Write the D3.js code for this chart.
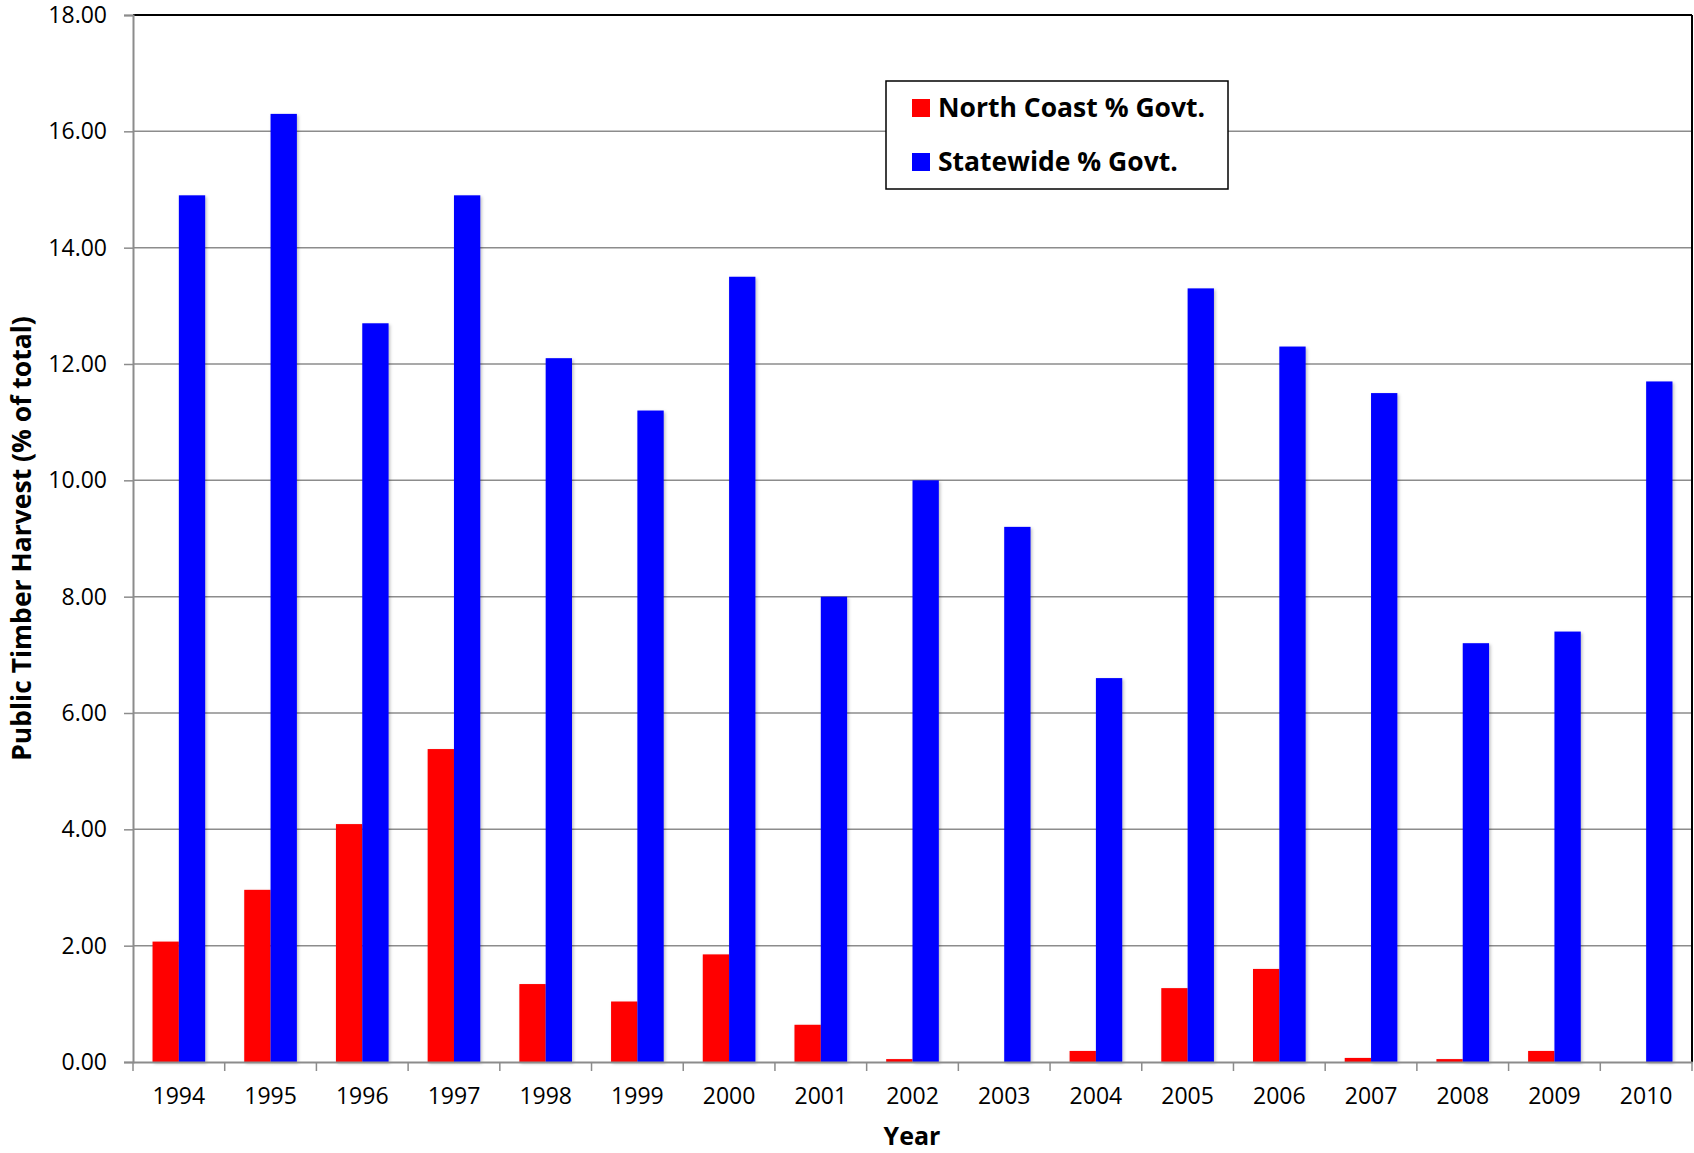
<!DOCTYPE html>
<html>
<head>
<meta charset="utf-8">
<script src="https://cdn.jsdelivr.net/npm/d3@7"></script>
<style>
  body { margin: 0; background: #fff; }
  text { font-family: "Open Sans", sans-serif; fill: #000; }
</style>
</head>
<body>
<div id="chart"></div>
<script>
// data
var years = ["1994","1995","1996","1997","1998","1999","2000","2001","2002","2003","2004","2005","2006","2007","2008","2009","2010"];
var northCoast = [2.07, 2.96, 4.09, 5.38, 1.34, 1.04, 1.85, 0.64, 0.05, 0, 0.19, 1.27, 1.60, 0.07, 0.05, 0.19, 0];
var statewide = [14.9, 16.3, 12.7, 14.9, 12.1, 11.2, 13.5, 8.0, 10.0, 9.2, 6.6, 13.3, 12.3, 11.5, 7.2, 7.4, 11.7];
var seriesNames = ["North Coast % Govt.", "Statewide % Govt."];
var seriesColors = ["#ff0000", "#0000ff"];
var yTicks = [0, 2, 4, 6, 8, 10, 12, 14, 16, 18];

var data = years.map(function(y, i) {
  return {year: y, values: [northCoast[i], statewide[i]]};
});

// set the dimensions and margins of the graph
var margin = {top: 15, right: 2, bottom: 91, left: 133},
width = 1694 - margin.left - margin.right,
height = 1153 - margin.top - margin.bottom;

var root = d3.select("#chart")
.append("svg")
.attr("width", width + margin.left + margin.right)
.attr("height", height + margin.top + margin.bottom);

// faint shadow like the spreadsheet bars
var filt = root.append("defs").append("filter")
  .attr("id", "shadow").attr("x", "-20%").attr("y", "-5%").attr("width", "150%").attr("height", "115%");
filt.append("feDropShadow")
  .attr("dx", 1.5).attr("dy", 1.5).attr("stdDeviation", 1.5)
  .attr("flood-color", "#000").attr("flood-opacity", 0.25);

var svg = root.append("g")
.attr("transform", "translate(" + margin.left + "," + margin.top + ")");

// scales
var x0 = d3.scaleBand()
  .domain(years)
  .range([0, width])
  .padding(0);

var bw = x0.bandwidth();
var x1 = d3.scaleBand()
  .domain([0, 1])
  .range([bw * 0.213, bw * 0.787])
  .padding(0);

var y = d3.scaleLinear()
  .domain([0, 18])
  .range([height, 0]);

// gridlines
svg.append("g")
  .selectAll("line")
  .data(yTicks.filter(function(d) { return d > 0 && d < 18; }))
  .enter()
  .append("line")
    .attr("x1", 0)
    .attr("x2", width)
    .attr("y1", function(d) { return y(d); })
    .attr("y2", function(d) { return y(d); })
    .style("stroke", "#8c8c8c")
    .style("stroke-width", 1.5);

// bars
var groups = svg.append("g")
  .selectAll("g")
  .data(data)
  .enter()
  .append("g")
    .attr("transform", function(d) { return "translate(" + x0(d.year) + ",0)"; });

groups.selectAll("rect")
  .data(function(d) { return d.values.map(function(v, i) { return {i: i, v: v}; }); })
  .enter()
  .filter(function(d) { return d.v > 0; })
  .append("rect")
    .attr("x", function(d) { return x1(d.i); })
    .attr("y", function(d) { return y(d.v); })
    .attr("width", x1.bandwidth())
    .attr("height", function(d) { return height - y(d.v); })
    .attr("filter", "url(#shadow)")
    .style("fill", function(d) { return seriesColors[d.i]; });

// top and right border
svg.append("line")
  .attr("x1", 0).attr("x2", width).attr("y1", 0).attr("y2", 0)
  .style("stroke", "#000").style("stroke-width", 2);
svg.append("line")
  .attr("x1", width).attr("x2", width).attr("y1", 0).attr("y2", height)
  .style("stroke", "#000").style("stroke-width", 2);

// Y axis
var yAxis = svg.append("g")
  .call(d3.axisLeft(y).tickValues(yTicks).tickFormat(d3.format(".2f")).tickSize(9).tickPadding(17));
yAxis.selectAll("line").style("stroke", "#8c8c8c").style("stroke-width", 1.5);
yAxis.select(".domain").style("stroke", "#8c8c8c").style("stroke-width", 2);
yAxis.selectAll("text").style("font-size", "23px").style("font-family", "Open Sans");

// X axis
var xAxis = svg.append("g")
  .attr("transform", "translate(0," + height + ")")
  .call(d3.axisBottom(x0).tickSize(0).tickPadding(26));
xAxis.select(".domain").style("stroke", "#8c8c8c").style("stroke-width", 2);
xAxis.selectAll("text").style("font-size", "23px").style("font-family", "Open Sans");

// tick marks between categories
xAxis.append("g")
  .selectAll("line")
  .data(years.concat(["end"]))
  .enter()
  .append("line")
    .attr("x1", function(d) { return d === "end" ? width : x0(d); })
    .attr("x2", function(d) { return d === "end" ? width : x0(d); })
    .attr("y1", 0)
    .attr("y2", 9)
    .style("stroke", "#8c8c8c")
    .style("stroke-width", 1.5);

// axis titles
root.append("text")
  .attr("x", 912)
  .attr("y", 1145)
  .attr("text-anchor", "middle")
  .style("font-size", "25px")
  .style("font-weight", "bold")
  .text("Year");

root.append("text")
  .attr("transform", "translate(31," + (margin.top + height / 2) + ") rotate(-90)")
  .attr("text-anchor", "middle")
  .style("font-size", "26.5px")
  .style("font-weight", "bold")
  .text("Public Timber Harvest (% of total)");

// legend
var legend = root.append("g");
legend.append("rect")
  .attr("x", 886).attr("y", 81)
  .attr("width", 342).attr("height", 108)
  .style("fill", "#fff")
  .style("stroke", "#000")
  .style("stroke-width", 1.5);

var items = legend.selectAll(".item")
  .data(seriesNames)
  .enter()
  .append("g")
    .attr("class", "item")
    .attr("transform", function(d, i) { return "translate(912," + (99 + i * 54) + ")"; });

items.append("rect")
  .attr("width", 18).attr("height", 18)
  .style("fill", function(d, i) { return seriesColors[i]; });

items.append("text")
  .attr("x", 26)
  .attr("y", 18)
  .style("font-size", "26.5px")
  .style("font-weight", "bold")
  .text(function(d) { return d; });
</script>
</body>
</html>
